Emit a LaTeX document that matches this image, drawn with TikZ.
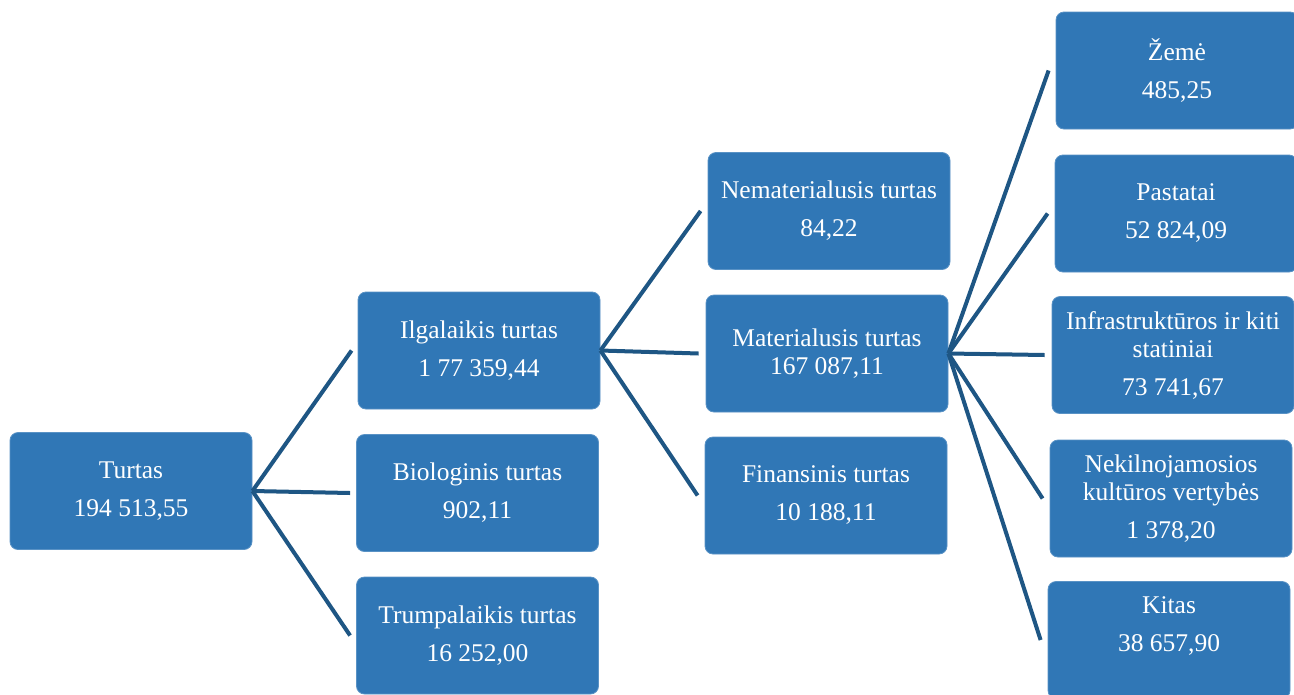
\documentclass[tikz,border=0pt]{standalone}
\usepackage{fontspec}
\setmainfont{Liberation Serif}
\usepackage{tikz}
\definecolor{boxblue}{RGB}{48,119,182}
\definecolor{lineblue}{RGB}{30,86,132}
\tikzset{
  turtbox/.style={draw=boxblue!80!white, line width=0.8pt, fill=boxblue, rounded corners=8pt,
    minimum width=242pt, minimum height=117pt, inner sep=0pt, align=center, text=white,
    font=\fontsize{25.5}{28}\selectfont},
  fan/.style={draw=lineblue, line width=4pt}
}
\begin{document}
\begin{tikzpicture}[x=1pt,y=-1pt]
			%%%%% START %%%%%
			\clip (0,0) rectangle (1294,694);
			\fill[white] (0,0) rectangle (1294,694);
			
			\node[turtbox] (turtas) at (131, 491) {Turtas\\[10pt]194 513,55};
			
			\node[turtbox] (ilgal) at (479, 350.5) {Ilgalaikis turtas\\[10pt]1 77 359,44};
			\node[turtbox] (biolog) at (477.5, 493) {Biologinis turtas\\[10pt]902,11};
			\node[turtbox] (trump) at (477.5, 635.5) {Trumpalaikis turtas\\[10pt]16 252,00};
			
			\node[turtbox] (nemat) at (829, 211) {Nematerialusis turtas\\[10pt]84,22};
			\node[turtbox] (mat) at (827, 353.5) {Materialusis turtas\\167 087,11};
			\node[turtbox] (finans) at (826, 495.5) {Finansinis turtas\\[10pt]10 188,11};
			
			\node[turtbox] (zeme) at (1177, 70.5) {Žemė\\[10pt]485,25};
			\node[turtbox] (pastat) at (1176, 213.5) {Pastatai\\[10pt]52 824,09};
			\node[turtbox] (infra) at (1173, 355) {Infrastruktūros ir kiti\\statiniai\\[10pt]73 741,67};
			\node[turtbox] (nekiln) at (1171, 498.5) {Nekilnojamosios\\kultūros vertybės\\[10pt]1 378,20};
			% text sits high in the cut-off box
			\node[turtbox] (kitas) at (1169, 640) {Kitas\\[10pt]38 657,90\\[4pt]~};
			
			\draw[fan] (turtas.east) -- ([xshift=-6pt]ilgal.west);
			\draw[fan] (turtas.east) -- ([xshift=-6pt]biolog.west);
			\draw[fan] (turtas.east) -- ([xshift=-6pt]trump.west);
			
			\draw[fan] (ilgal.east) -- ([xshift=-7pt]nemat.west);
			\draw[fan] (ilgal.east) -- ([xshift=-7pt]mat.west);
			\draw[fan] (ilgal.east) -- ([xshift=-7pt]finans.west);
			
			\draw[fan] (mat.east) -- ([xshift=-7pt]zeme.west);
			\draw[fan] (mat.east) -- ([xshift=-7pt]pastat.west);
			\draw[fan] (mat.east) -- ([xshift=-7pt]infra.west);
			\draw[fan] (mat.east) -- ([xshift=-7pt]nekiln.west);
			\draw[fan] (mat.east) -- ([xshift=-7pt]kitas.west);
			%%%%% END %%%%%
\end{tikzpicture}
\end{document}
